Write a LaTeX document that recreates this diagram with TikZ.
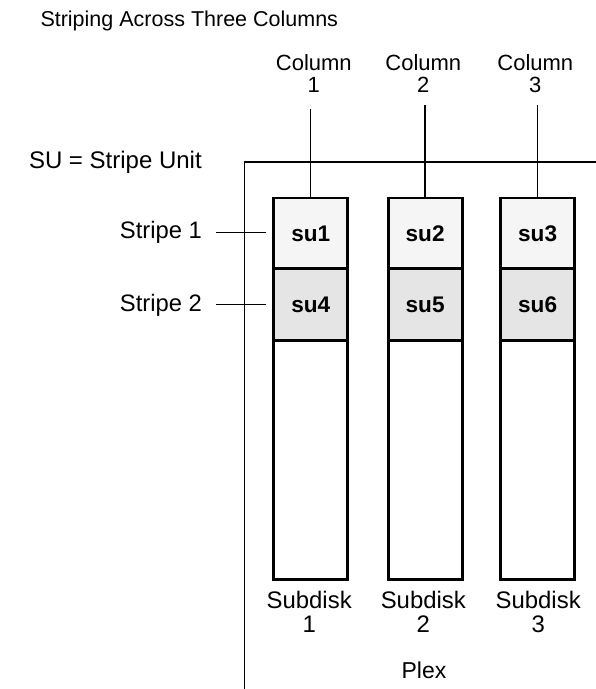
\documentclass[tikz,border=0pt]{standalone}
\usepackage{fontspec}
\setmainfont{Liberation Sans}
\definecolor{suA}{HTML}{F5F5F5}
\definecolor{suB}{HTML}{E5E5E5}
\begin{document}
\begin{tikzpicture}[x=1pt,y=-1pt,
  lbl/.style={inner sep=0pt, outer sep=0pt, anchor=base, font=\fontsize{23}{23}\selectfont},
  cell/.style={draw, line width=2.8pt, minimum width=74pt, inner sep=0pt,
               font=\bfseries\fontsize{22.6}{22.6}\selectfont},
  rowA/.style={cell, fill=suA, minimum height=70.7pt},
  rowB/.style={cell, fill=suB, minimum height=72pt},
  rowC/.style={cell, fill=white, minimum height=238.8pt},
  thinline/.style={line width=1.3pt}]
\useasboundingbox (0,0) rectangle (596,689);
\fill[white] (0,0) rectangle (596,689);

% title and legend
\node[lbl, anchor=base west, font=\fontsize{21.5}{21.5}\selectfont] (title) at (40.5,26.7) {Striping Across Three Columns};
\node[lbl, anchor=base west, font=\fontsize{24}{24}\selectfont] (legend) at (29,168.3) {SU = Stripe Unit};

% plex outline
\coordinate (plexTR) at (596,162);
\coordinate (plexBL) at (244.7,689);
\draw[thinline] (plexTR) -| (plexBL);
\node[lbl] (plex) at (424,678.3) {Plex};

% column labels
\foreach \i/\cx in {1/313.8,2/423.3,3/535.3}{
  \node[lbl, font=\fontsize{22}{22}\selectfont] (colA\i) at (\cx,70) {Column};
  \node[lbl, font=\fontsize{22}{22}\selectfont] (colB\i) at (\cx,92.7) {\i};
}

% subdisk columns
\foreach \i/\x/\sx in {1/310.75/309.2,2/425.1/423.3,3/537.6/538.2}{
  \node[rowC] (low\i) at (\x,460.1) {};
  \node[lbl, font=\fontsize{23.9}{23.9}\selectfont] (sdA\i) at (\sx,608.3) {Subdisk};
  \node[lbl, font=\fontsize{23.9}{23.9}\selectfont] (sdB\i) at (\sx,632.7) {\i};
}
\node[rowA] (su1) at (310.75,233.35) {su1};
\node[rowA] (su2) at (425.1,233.35) {su2};
\node[rowA] (su3) at (537.6,233.35) {su3};
\node[rowB] (su4) at (310.75,304.7) {su4};
\node[rowB] (su5) at (425.1,304.7) {su5};
\node[rowB] (su6) at (537.6,304.7) {su6};

% column connectors
\coordinate (ct1) at (310.75,109.3);
\coordinate (ct2) at (425.1,105);
\coordinate (ct3) at (537.6,105);
\draw[thinline] (ct1) -- (su1.north);
\draw[thinline] (ct2) -- (su2.north);
\draw[thinline] (ct3) -- (su3.north);

% stripe labels
\node[lbl, anchor=base east, font=\fontsize{23.8}{23.8}\selectfont] (stripe1) at (202,238.3) {Stripe 1};
\node[lbl, anchor=base east, font=\fontsize{23.8}{23.8}\selectfont] (stripe2) at (202,311.7) {Stripe 2};
\coordinate (sl1a) at (216,232.7);
\coordinate (sl1b) at (265.7,232.7);
\coordinate (sl2a) at (216,304.3);
\coordinate (sl2b) at (265.7,304.3);
\draw[thinline] (sl1a) -- (sl1b);
\draw[thinline] (sl2a) -- (sl2b);
\end{tikzpicture}
\end{document}
